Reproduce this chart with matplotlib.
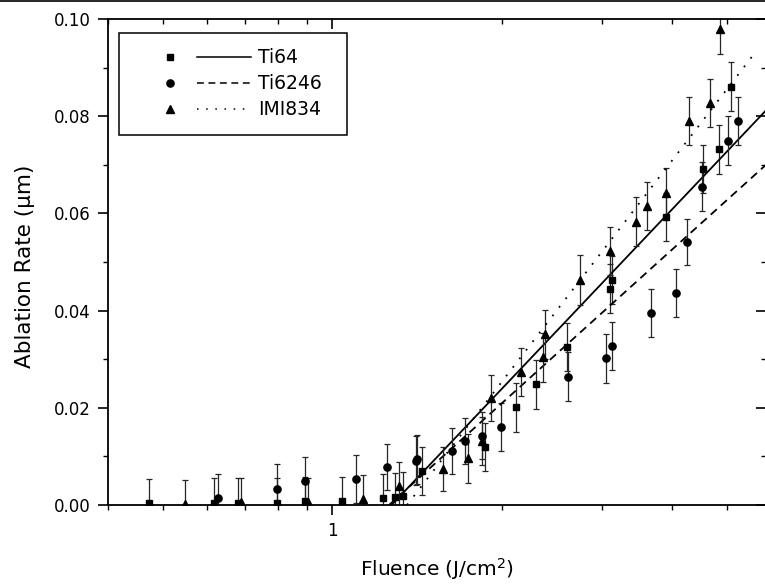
import matplotlib
matplotlib.use("Agg")
import matplotlib.pyplot as plt
from matplotlib.lines import Line2D
from matplotlib.patches import Rectangle
from matplotlib.ticker import FixedLocator, NullFormatter, FuncFormatter, MultipleLocator

# ---- data (fluence J/cm^2, ablation rate um) ----
ti64_f = [0.473, 0.617, 0.681, 0.797, 0.894, 1.038, 1.230, 1.291, 1.332, 1.443,
          1.864, 2.115, 2.295, 2.602, 3.105, 3.134, 3.898, 4.548, 4.845, 5.082]
ti64_y = [0.0005, 0.0005, 0.0005, 0.0005, 0.0009, 0.0008, 0.0014, 0.0017, 0.0019, 0.0070,
          0.0119, 0.0201, 0.0248, 0.0325, 0.0445, 0.0463, 0.0593, 0.0691, 0.0732, 0.0861]
ti64_err = [0.0049, 0.0050, 0.0050, 0.0050, 0.0048, 0.0050, 0.0050, 0.0049, 0.0049, 0.0049,
            0.0049, 0.0050, 0.0050, 0.0050, 0.0050, 0.0050, 0.0050, 0.0050, 0.0050, 0.0050]

ti6246_f = [0.626, 0.797, 0.894, 1.101, 1.251, 1.404, 1.410, 1.629, 1.721, 1.839,
            1.990, 2.612, 3.055, 3.126, 3.671, 4.057, 4.252, 4.514, 5.020, 5.243]
ti6246_y = [0.0015, 0.0033, 0.0049, 0.0054, 0.0078, 0.0091, 0.0094, 0.0111, 0.0132, 0.0143,
            0.0161, 0.0264, 0.0302, 0.0327, 0.0395, 0.0436, 0.0541, 0.0655, 0.0750, 0.0790]
ti6246_err = [0.0049, 0.0051, 0.0049, 0.0049, 0.0048, 0.0050, 0.0050, 0.0048, 0.0048, 0.0049,
              0.0049, 0.0050, 0.0050, 0.0050, 0.0050, 0.0050, 0.0048, 0.0050, 0.0050, 0.0050]

imi834_f = [0.548, 0.688, 0.906, 1.131, 1.312, 1.572, 1.741, 1.839, 1.910, 2.157,
            2.359, 2.381, 2.747, 3.105, 3.457, 3.607, 3.903, 4.292, 4.676, 4.865]
imi834_y = [0.0003, 0.0007, 0.0007, 0.0012, 0.0039, 0.0074, 0.0096, 0.0132, 0.0220, 0.0274,
            0.0304, 0.0351, 0.0463, 0.0523, 0.0583, 0.0615, 0.0643, 0.0790, 0.0827, 0.0980]
imi834_err = [0.0049, 0.0048, 0.0049, 0.0049, 0.0050, 0.0046, 0.0051, 0.0049, 0.0048, 0.0050,
              0.0050, 0.0050, 0.0051, 0.0049, 0.0050, 0.0050, 0.0050, 0.0050, 0.0050, 0.0051]

# linear-in-log fits, start (threshold) and end points
fit_ti64_f, fit_ti64_y = [1.273, 5.87], [0.0, 0.0812]
fit_ti6246_f, fit_ti6246_y = [1.260, 5.87], [0.0, 0.0700]
fit_imi834_f, fit_imi834_y = [1.356, 5.65], [0.0, 0.0935]

labels = ["Ti64", "Ti6246", "IMI834"]

plt.rcParams.update({"font.family": ["DejaVu Sans"], "font.size": 12})

W, H = 765, 586
fig = plt.figure(figsize=(W / 100, H / 100), dpi=100)
ax_l, ax_r, ax_t, ax_b = 108, 766, 19, 505
ax = fig.add_axes([ax_l / W, (H - ax_b) / H, (ax_r - ax_l) / W, (ax_b - ax_t) / H])

series = [
    (ti64_f, ti64_y, ti64_err, "s", 4.7, fit_ti64_f, fit_ti64_y, "-"),
    (ti6246_f, ti6246_y, ti6246_err, "o", 5.2, fit_ti6246_f, fit_ti6246_y, (0, (4.5, 3))),
    (imi834_f, imi834_y, imi834_err, "^", 5.7, fit_imi834_f, fit_imi834_y, (0, (1, 5))),
]
for f, y, e, mk, ms, ff, fy, ls in series:
    ax.errorbar(f, y, yerr=e, fmt=mk, ms=ms, color="black", ecolor="0.15",
                elinewidth=0.9, capsize=2.3, capthick=0.9)
    ax.plot(ff, fy, color="black", lw=1.3, ls=ls)

ax.set_xscale("log")
ax.set_xlim(0.4, 5.87)
ax.set_ylim(0.0, 0.10)

ax.xaxis.set_major_locator(FixedLocator([1.0]))
ax.xaxis.set_minor_locator(FixedLocator([0.4, 0.5, 0.6, 0.7, 0.8, 0.9, 2, 3, 4, 5]))
ax.xaxis.set_major_formatter(FuncFormatter(lambda v, p: "1"))
ax.xaxis.set_minor_formatter(NullFormatter())
ax.yaxis.set_major_locator(MultipleLocator(0.02))
ax.yaxis.set_minor_locator(MultipleLocator(0.01))
ax.yaxis.set_major_formatter(FuncFormatter(lambda v, p: f"{v:.2f}"))

ax.tick_params(which="major", direction="out", length=7.2, width=1.2, pad=5, labelsize=12)
ax.tick_params(which="minor", direction="out", length=3.6, width=1.0)
for s in ax.spines.values():
    s.set_linewidth(1.3)

# mirrored ticks pointing inward on top and right
top = ax.twiny()
top.set_xscale("log")
top.set_xlim(ax.get_xlim())
top.xaxis.set_major_locator(FixedLocator([1.0]))
top.xaxis.set_minor_locator(FixedLocator([0.4, 0.5, 0.6, 0.7, 0.8, 0.9, 2, 3, 4, 5]))
top.xaxis.set_major_formatter(NullFormatter())
top.xaxis.set_minor_formatter(NullFormatter())
top.tick_params(which="major", direction="in", length=7.2, width=1.2)
top.tick_params(which="minor", direction="in", length=3.6, width=1.0)
right = ax.twinx()
right.set_ylim(ax.get_ylim())
right.yaxis.set_major_locator(MultipleLocator(0.02))
right.yaxis.set_minor_locator(MultipleLocator(0.01))
right.yaxis.set_major_formatter(NullFormatter())
right.tick_params(which="major", direction="in", length=7.2, width=1.2)
right.tick_params(which="minor", direction="in", length=3.6, width=1.0)
for a in (top, right):
    for s in a.spines.values():
        s.set_visible(False)

ax.set_xlabel("Fluence (J/cm$^2$)", fontsize=14.5)
ax.xaxis.set_label_coords(0.5, -0.106)
ax.set_ylabel("Ablation Rate (\u00b5m)", fontsize=15.5)
ax.yaxis.set_label_coords(-0.111, 0.492)

# legend box drawn by hand: marker column, line column, text
def ax_x(px):
    return (px - ax_l) / (ax_r - ax_l)

def ax_y(py):
    return (ax_b - py) / (ax_b - ax_t)

ax.add_patch(Rectangle((ax_x(119), ax_y(135)), ax_x(347) - ax_x(119), ax_y(33.3) - ax_y(135),
                       transform=ax.transAxes, fill=True, facecolor="white",
                       edgecolor="black", lw=1.1, zorder=5))
rows = [57.3, 83.3, 109.3]
for (f, y, e, mk, ms, ff, fy, ls), lab, ry in zip(series, labels, rows):
    ax.add_line(Line2D([ax_x(170)], [ax_y(ry)], marker=mk, ms=ms, color="black",
                       ls="none", transform=ax.transAxes, zorder=6))
    ax.add_line(Line2D([ax_x(197), ax_x(251)], [ax_y(ry), ax_y(ry)], color="black",
                       lw=1.1, ls=ls, transform=ax.transAxes, zorder=6))
    ax.text(ax_x(258), ax_y(ry), lab, transform=ax.transAxes, ha="left", va="center",
            fontsize=13.5, zorder=6)

# thin rule along the very top of the picture
fig.add_artist(Line2D([0, 1], [1 - 0.8 / H, 1 - 0.8 / H], color="black", lw=1.2,
                      transform=fig.transFigure))

fig.savefig("out.png", dpi=100)
